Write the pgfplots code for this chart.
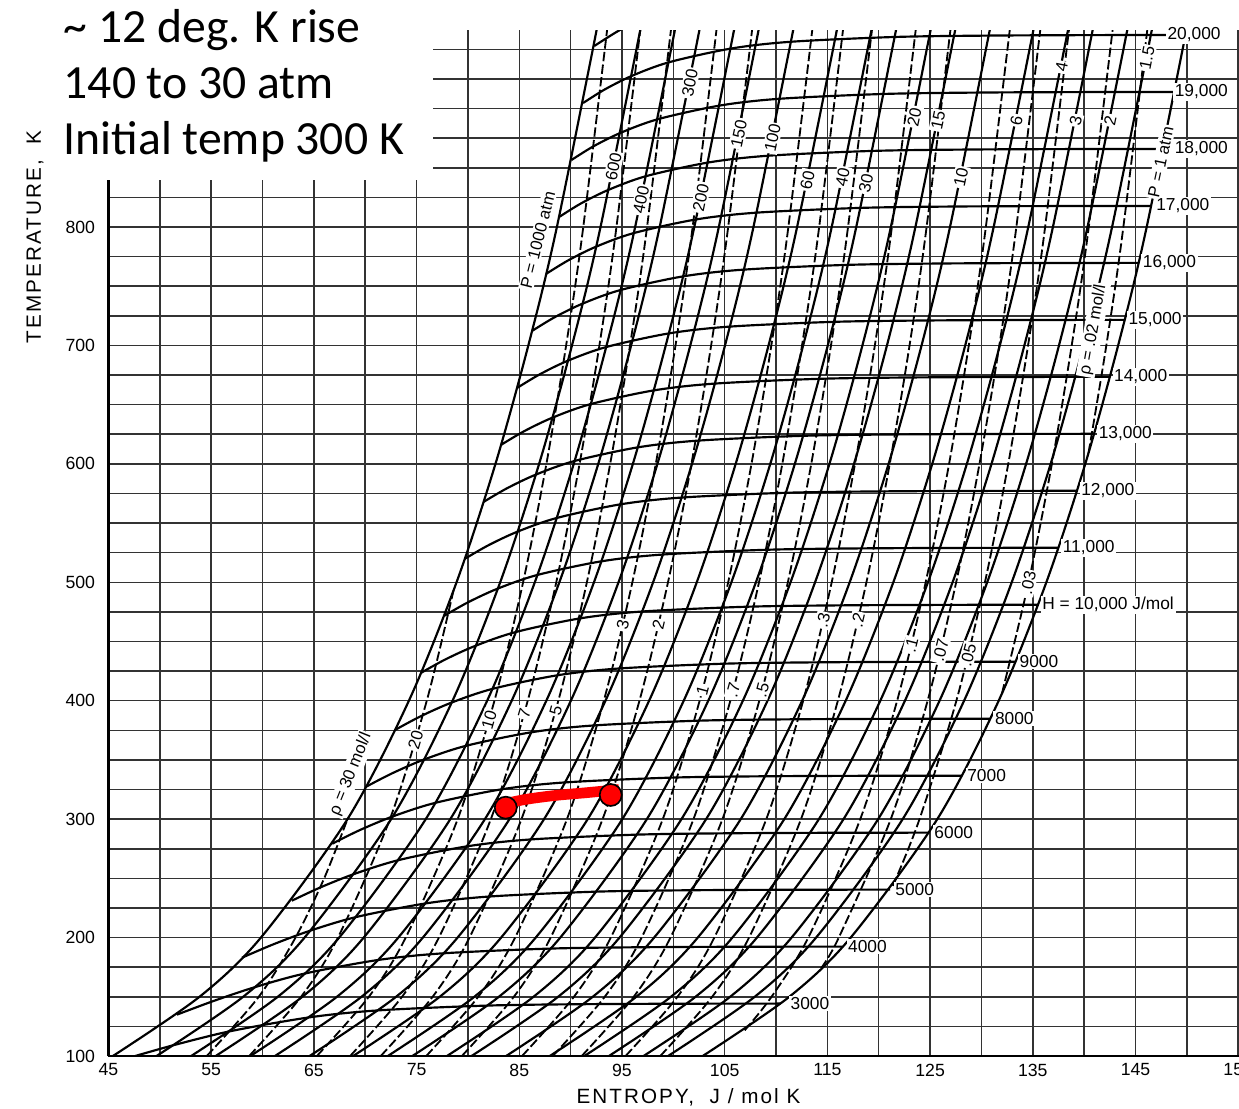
\documentclass[border=0pt]{standalone}
\usepackage{fontspec}
\setmainfont{Liberation Sans}
\newfontfamily\calib{Carlito}
\newfontfamily\spaced[LetterSpace=10]{Liberation Sans}
\usepackage{pgfplots}
\pgfplotsset{compat=1.18}
\begin{document}
\begin{tikzpicture}[
  lbl/.style={fill=white, inner sep=0.5pt, font=\fontsize{5}{5}\selectfont},
  hl/.style={fill=white, inner sep=0.5pt, anchor=west, font=\fontsize{5.2}{5.2}\selectfont},
]
\begin{axis}[
  scale only axis, width=339.15pt, height=307.68pt,
  xmin=45, xmax=155.08, ymin=100, ymax=966,
  axis x line=bottom, axis y line=left,
  axis line style={-, line width=0.75pt, black},
  xtick={45,55,...,155}, minor xtick={50,60,...,150},
  ytick={100,200,...,800}, minor ytick={125,150,...,950},
  grid=both,
  major grid style={black!80, line width=0.45pt},
  minor grid style={black!80, line width=0.45pt},
  major tick length=0pt, minor tick length=0pt,
  tick label style={font=\fontsize{5.3}{6}\selectfont},
  /pgf/number format/assume math mode=true,
  xticklabel style={yshift=1.2pt},
  yticklabel style={xshift=-0.5pt},
  xlabel={ENTROPY,\ \ J / mol K},
  ylabel={TEMPERATURE,\ \ K},
  xlabel style={at={(axis description cs:0.513,-0.040)}, anchor=center, font=\spaced\fontsize{6.2}{7}\selectfont},
  ylabel style={at={(axis description cs:-0.065,0.7986)}, anchor=center, font=\spaced\fontsize{6.2}{7}\selectfont},
  clip mode=individual,
  iso/.style={black, line width=0.65pt, smooth},
  isoc/.style={black, line width=0.55pt, smooth, dash pattern=on 2.8pt off 1pt},
]
% ---------- isenthalps (J/mol) ----------
\addplot[iso] coordinates {(110.48,144.27) (101.33,144.16) (91.26,143.76) (81.96,142.60) (71.36,138.58) (64.72,132.83) (57.07,121.32) (51.63,109.82) (47.60,100)};
\addplot[iso] coordinates {(116.46,192.38) (107.32,192.27) (97.27,191.87) (88.01,190.71) (77.55,186.69) (71.14,180.94) (64.01,169.43) (59.18,157.93) (55.22,146.43) (51.66,134.92)};
\addplot[iso] coordinates {(121.10,240.49) (111.96,240.38) (101.92,239.98) (92.68,238.82) (82.32,234.80) (76.04,229.05) (69.21,217.54) (64.71,206.04) (61.12,194.54) (58.00,183.03)};
\addplot[iso] coordinates {(124.90,288.60) (115.75,288.49) (105.71,288.09) (96.50,286.93) (86.19,282.91) (80.00,277.16) (73.36,265.65) (69.07,254.15) (65.71,242.65) (62.85,231.14)};
\addplot[iso] coordinates {(128.10,336.71) (118.96,336.60) (108.92,336.20) (99.72,335.04) (89.46,331.02) (83.33,325.27) (76.82,313.76) (72.67,302.26) (69.47,290.76) (66.78,279.25)};
\addplot[iso] coordinates {(130.88,384.82) (121.74,384.71) (111.70,384.31) (102.51,383.15) (92.28,379.13) (86.20,373.38) (79.79,361.87) (75.74,350.37) (72.66,338.87) (70.08,327.36)};
\addplot[iso] coordinates {(133.32,432.93) (124.19,432.82) (114.16,432.42) (104.97,431.26) (94.76,427.24) (88.72,421.49) (82.38,409.98) (78.42,398.48) (75.42,386.98) (72.93,375.47)};
\addplot[iso] coordinates {(135.51,481.03) (126.38,480.92) (116.35,480.52) (107.17,479.36) (96.98,475.34) (90.96,469.59) (84.69,458.08) (80.79,446.58) (77.85,435.08) (75.44,423.57)};
\addplot[iso] coordinates {(137.50,529.14) (128.36,529.03) (118.33,528.63) (109.15,527.47) (98.98,523.45) (92.99,517.70) (86.76,506.19) (82.91,494.69) (80.03,483.19) (77.68,471.68)};
\addplot[iso] coordinates {(139.30,577.25) (130.17,577.14) (120.14,576.74) (110.97,575.58) (100.81,571.56) (94.84,565.81) (88.65,554.30) (84.84,542.80) (82.00,531.30) (79.69,519.79)};
\addplot[iso] coordinates {(140.97,625.36) (131.83,625.25) (121.81,624.85) (112.64,623.69) (102.49,619.67) (96.53,613.92) (90.38,602.41) (86.61,590.91) (83.81,579.41) (81.53,567.90)};
\addplot[iso] coordinates {(142.51,673.47) (133.37,673.36) (123.35,672.96) (114.18,671.80) (104.05,667.78) (98.10,662.03) (91.98,650.52) (88.23,639.02) (85.46,627.52) (83.22,616.01)};
\addplot[iso] coordinates {(143.94,721.58) (134.81,721.47) (124.78,721.07) (115.62,719.91) (105.49,715.89) (99.56,710.14) (93.46,698.63) (89.74,687.13) (87.00,675.63) (84.79,664.12)};
\addplot[iso] coordinates {(145.28,769.69) (136.15,769.58) (126.13,769.18) (116.96,768.02) (106.84,764.00) (100.92,758.25) (94.84,746.74) (91.15,735.24) (88.43,723.74) (86.24,712.23)};
\addplot[iso] coordinates {(146.55,817.80) (137.41,817.69) (127.39,817.29) (118.23,816.13) (108.11,812.11) (102.20,806.36) (96.14,794.85) (92.47,783.35) (89.77,771.85) (87.60,760.34)};
\addplot[iso] coordinates {(147.73,865.91) (138.60,865.80) (128.58,865.40) (119.42,864.24) (109.31,860.22) (103.41,854.47) (97.36,842.96) (93.71,831.46) (91.02,819.96) (88.88,808.45)};
\addplot[iso] coordinates {(148.86,914.02) (139.72,913.91) (129.70,913.51) (120.54,912.35) (110.44,908.33) (104.55,902.58) (98.52,891.07) (94.88,879.57) (92.21,868.07) (90.08,856.56)};
\addplot[iso] coordinates {(149.92,962.13) (140.79,962.02) (130.77,961.62) (121.61,960.46) (111.51,956.44) (105.63,950.69) (99.61,939.18) (95.98,927.68) (93.33,916.18) (91.21,904.67)};
\addplot[iso] coordinates {(100.65,987.29) (97.03,975.79) (95.63,970.04) (94.39,964.29) (92.29,952.78)};
% ---------- isobars (atm) ----------
\addplot[iso] coordinates {(102.86,100) (111.29,150) (117.27,200) (125.70,300) (131.68,400) (136.32,500) (140.11,600) (143.31,700) (146.09,800) (150.73,1000)};
\addplot[iso] coordinates {(99.49,100) (107.92,150) (113.90,200) (122.33,300) (128.31,400) (132.95,500) (136.74,600) (139.94,700) (142.72,800) (147.36,1000)};
\addplot[iso] coordinates {(97.10,100) (105.53,150) (111.51,200) (119.94,300) (125.92,400) (130.56,500) (134.35,600) (137.55,700) (140.33,800) (144.97,1000)};
\addplot[iso] coordinates {(93.73,100) (102.16,150) (108.14,200) (116.57,300) (122.55,400) (127.19,500) (130.98,600) (134.18,700) (136.96,800) (141.60,1000)};
\addplot[iso] coordinates {(91.34,100) (99.76,150) (105.75,200) (114.17,300) (120.15,400) (124.79,500) (128.58,600) (131.79,700) (134.56,800) (139.20,1000)};
\addplot[iso] coordinates {(87.97,100) (96.39,150) (102.38,200) (110.80,300) (116.78,400) (121.42,500) (125.21,600) (128.42,700) (131.19,800) (135.83,1000)};
\addplot[iso] coordinates {(83.72,100) (92.15,150) (98.13,200) (106.56,300) (112.54,400) (117.17,500) (120.96,600) (124.17,700) (126.94,800) (131.58,1000)};
\addplot[iso] coordinates {(80.35,100) (88.78,150) (94.76,200) (103.19,300) (109.17,400) (113.80,500) (117.59,600) (120.80,700) (123.57,800) (128.21,1000)};
\addplot[iso] coordinates {(77.96,100) (86.38,150) (92.37,200) (100.79,300) (106.77,400) (111.41,500) (115.20,600) (118.41,700) (121.18,800) (125.82,1000)};
\addplot[iso] coordinates {(74.59,100) (83.01,150) (88.99,200) (97.42,300) (103.40,400) (108.04,500) (111.83,600) (115.04,700) (117.81,800) (122.45,1000)};
\addplot[iso] coordinates {(72.20,100) (80.62,150) (86.60,200) (95.03,300) (101.01,400) (105.65,500) (109.44,600) (112.64,700) (115.42,800) (120.06,1000)};
\addplot[iso] coordinates {(68.82,100) (77.25,150) (83.23,200) (91.66,300) (97.64,400) (102.28,500) (106.07,600) (109.27,700) (112.05,800) (116.69,1000)};
\addplot[iso] coordinates {(64.58,100) (73.00,150) (78.99,200) (87.41,300) (93.39,400) (98.03,500) (101.82,600) (105.03,700) (107.80,800) (112.44,1000)};
\addplot[iso] coordinates {(61.21,100) (69.63,150) (75.61,200) (84.04,300) (90.02,400) (94.66,500) (98.45,600) (101.65,700) (104.43,800) (109.07,1000)};
\addplot[iso] coordinates {(58.81,100) (67.24,150) (73.22,200) (81.65,300) (87.63,400) (92.27,500) (96.06,600) (99.26,700) (102.04,800) (106.68,1000)};
\addplot[iso] coordinates {(55.44,100) (63.87,150) (69.85,200) (78.28,300) (84.26,400) (88.90,500) (92.69,600) (95.89,700) (98.67,800) (103.31,1000)};
\addplot[iso] coordinates {(53.05,100) (61.48,150) (67.46,200) (75.89,300) (81.87,400) (86.51,500) (90.30,600) (93.50,700) (96.28,800) (100.92,1000)};
\addplot[iso] coordinates {(49.68,100) (58.11,150) (64.09,200) (72.52,300) (78.50,400) (83.14,500) (86.93,600) (90.13,700) (92.91,800) (97.55,1000)};
\addplot[iso] coordinates {(45.43,100) (53.86,150) (59.84,200) (68.27,300) (74.25,400) (78.89,500) (82.68,600) (85.88,700) (88.66,800) (93.30,1000)};
% ---------- isochores (mol/l), dashed ----------
\addplot[isoc] coordinates {(54.57,100) (59.63,150) (63.21,200) (66.00,250) (68.27,300)};
\addplot[isoc] coordinates {(58.70,100) (63.75,150) (67.34,200) (72.40,300) (75.99,400) (78.59,493)};
\addplot[isoc] coordinates {(65.29,100) (70.35,150) (73.94,200) (79.00,300) (82.58,400) (85.37,500) (87.64,600) (89.56,700) (91.23,800) (94.01,1000)};
\addplot[isoc] coordinates {(68.53,100) (73.58,150) (77.17,200) (82.23,300) (85.82,400) (88.60,500) (90.87,600) (92.80,700) (94.46,800) (97.24,1000)};
\addplot[isoc] coordinates {(71.51,100) (76.56,150) (80.15,200) (85.21,300) (88.80,400) (91.58,500) (93.85,600) (95.78,700) (97.44,800) (100.23,1000)};
\addplot[isoc] coordinates {(75.94,100) (81.00,150) (84.59,200) (89.64,300) (93.23,400) (96.01,500) (98.29,600) (100.21,700) (101.88,800) (104.66,1000)};
\addplot[isoc] coordinates {(79.41,100) (84.47,150) (88.05,200) (93.11,300) (96.70,400) (99.48,500) (101.76,600) (103.68,700) (105.34,800) (108.13,1000)};
\addplot[isoc] coordinates {(85.27,100) (90.32,150) (93.91,200) (98.97,300) (102.56,400) (105.34,500) (107.61,600) (109.54,700) (111.20,800) (113.99,1000)};
\addplot[isoc] coordinates {(88.26,100) (93.32,150) (96.91,200) (101.96,300) (105.55,400) (108.34,500) (110.61,600) (112.53,700) (114.20,800) (116.98,1000)};
\addplot[isoc] coordinates {(91.08,100) (96.14,150) (99.72,200) (104.78,300) (108.37,400) (111.15,500) (113.43,600) (115.35,700) (117.01,800) (119.80,1000)};
\addplot[isoc] coordinates {(95.35,100) (100.40,150) (103.99,200) (109.05,300) (112.64,400) (115.42,500) (117.69,600) (119.62,700) (121.28,800) (124.06,1000)};
\addplot[isoc] coordinates {(98.73,100) (103.78,150) (107.37,200) (112.43,300) (116.02,400) (118.80,500) (121.07,600) (123.00,700) (124.66,800) (127.44,1000)};
\addplot[isoc] coordinates {(106.95,121.7) (109.56,150) (113.14,200) (118.20,300) (121.79,400) (124.57,500) (126.85,600) (128.77,700) (130.43,800) (133.22,1000)};
\addplot[isoc] coordinates {(114.38,174.1) (116.11,200) (121.17,300) (124.76,400) (127.54,500) (129.81,600) (131.74,700) (133.40,800) (136.19,1000)};
\addplot[isoc] coordinates {(121.38,243.7) (123.97,300) (127.56,400) (130.34,500) (132.61,600) (134.54,700) (136.20,800) (138.98,1000)};
\addplot[isoc] coordinates {(132.00,406.2) (134.59,500) (136.86,600) (138.79,700) (140.45,800) (143.23,1000)};
\addplot[isoc] coordinates {(140.43,609.3) (142.16,700) (143.82,800) (146.61,1000)};
% ---------- labels: isobars ----------
\node[lbl, rotate=76] at (axis cs:86.8,789) {P = 1000 atm};
\node[lbl, rotate=78] at (axis cs:94.18,850.7) {600};
\node[lbl, rotate=78] at (axis cs:96.86,823) {400};
\node[lbl, rotate=79] at (axis cs:101.61,921.6) {300};
\node[lbl, rotate=78] at (axis cs:102.68,825) {200};
\node[lbl, rotate=78] at (axis cs:106.38,879) {150};
\node[lbl, rotate=78] at (axis cs:109.66,875) {100};
\node[lbl, rotate=78] at (axis cs:113.06,839.7) {60};
\node[lbl, rotate=78] at (axis cs:116.48,842) {40};
\node[lbl, rotate=78] at (axis cs:118.75,837) {30};
\node[lbl, rotate=78] at (axis cs:123.47,893) {20};
\node[lbl, rotate=78] at (axis cs:125.79,890) {15};
\node[lbl, rotate=78] at (axis cs:128.01,842) {10};
\node[lbl, rotate=78] at (axis cs:133.40,890) {6};
\node[lbl, rotate=79] at (axis cs:137.80,935) {4};
\node[lbl, rotate=78] at (axis cs:139.17,890) {3};
\node[lbl, rotate=78] at (axis cs:142.54,890) {2};
\node[lbl, rotate=79] at (axis cs:146.13,942.7) {1.5};
\node[lbl, rotate=78] at (axis cs:147.47,855) {P = 1 atm};
% ---------- labels: isochores ----------
\node[lbl, rotate=68] at (axis cs:68.6,338) {ρ = 30 mol/l};
\node[lbl, rotate=74] at (axis cs:74.91,366.8) {20};
\node[lbl, rotate=74] at (axis cs:82.06,383.7) {10};
\node[lbl, rotate=74] at (axis cs:85.49,389.6) {7};
\node[lbl, rotate=75] at (axis cs:88.55,392) {5};
\node[lbl, rotate=77] at (axis cs:95.08,464) {3};
\node[lbl, rotate=77] at (axis cs:98.55,464) {2};
\node[lbl, rotate=75] at (axis cs:102.84,409) {1};
\node[lbl, rotate=75] at (axis cs:105.83,409) {.7};
\node[lbl, rotate=75] at (axis cs:108.65,409) {.5};
\node[lbl, rotate=77] at (axis cs:114.59,468) {.3};
\node[lbl, rotate=77] at (axis cs:117.97,468) {.2};
\node[lbl, rotate=76] at (axis cs:123.17,447) {.1};
\node[lbl, rotate=76] at (axis cs:126.03,442.8) {.07};
\node[lbl, rotate=76] at (axis cs:128.71,438.6) {.05};
\node[lbl, rotate=78] at (axis cs:134.57,499.4) {.03};
\node[lbl, rotate=80] at (axis cs:140.9,713) {ρ = .02 mol/l};
% ---------- labels: isenthalps ----------
\node[hl] at (axis cs:111.2,144.3) {3000};
\node[hl] at (axis cs:116.8,192.4) {4000};
\node[hl] at (axis cs:121.4,240.5) {5000};
\node[hl] at (axis cs:125.2,288.7) {6000};
\node[hl] at (axis cs:128.4,336.8) {7000};
\node[hl] at (axis cs:131.1,384.9) {8000};
\node[hl] at (axis cs:133.5,433.0) {9000};
\node[hl] at (axis cs:135.7,481.1) {H = 10,000 J/mol};
\node[hl] at (axis cs:137.7,529.2) {11,000};
\node[hl] at (axis cs:139.5,577.3) {12,000};
\node[hl] at (axis cs:141.2,625.4) {13,000};
\node[hl] at (axis cs:142.7,673.5) {14,000};
\node[hl] at (axis cs:144.1,721.6) {15,000};
\node[hl] at (axis cs:145.5,769.7) {16,000};
\node[hl] at (axis cs:146.8,817.9) {17,000};
\node[hl] at (axis cs:148.6,866.0) {18,000};
\node[hl] at (axis cs:148.6,914.1) {19,000};
\node[hl] at (axis cs:147.9,962.2) {20,000};
% ---------- red process path ----------
\addplot[red, line width=3.2pt, smooth] coordinates {(82.8,311.5) (85.5,316.5) (88.5,320.0) (91.5,322.3) (94.7,325.0)};
\addplot[only marks, mark=*, mark size=3.3pt, mark options={fill=red, draw=black, line width=0.5pt}] coordinates {(83.68,309.7) (93.90,320.4)};
% ---------- reference coordinates ----------
\coordinate (pageLL) at (axis cs:34.435,56.09);
\coordinate (pageUR) at (axis cs:155.08,991.67);
\coordinate (boxLL) at (axis cs:39.5,839.7);
\coordinate (boxUR) at (axis cs:76.6,991.67);
\coordinate (t1) at (axis cs:40.57,956.2);
\coordinate (t2) at (axis cs:40.57,908.5);
\coordinate (t3) at (axis cs:40.57,860.8);
\end{axis}
\fill[white] (boxLL) rectangle (boxUR);
\node[anchor=base west, inner sep=0pt, font=\calib\fontsize{14.3}{17}\selectfont] at (t1) {\textasciitilde{} 12 deg. K rise};
\node[anchor=base west, inner sep=0pt, font=\calib\fontsize{14.3}{17}\selectfont] at (t2) {140 to 30 atm};
\node[anchor=base west, inner sep=0pt, font=\calib\fontsize{14.3}{17}\selectfont] at (t3) {Initial temp 300 K};
\pgfresetboundingbox
\path[use as bounding box] (pageLL) rectangle (pageUR);
\end{tikzpicture}
\end{document}
